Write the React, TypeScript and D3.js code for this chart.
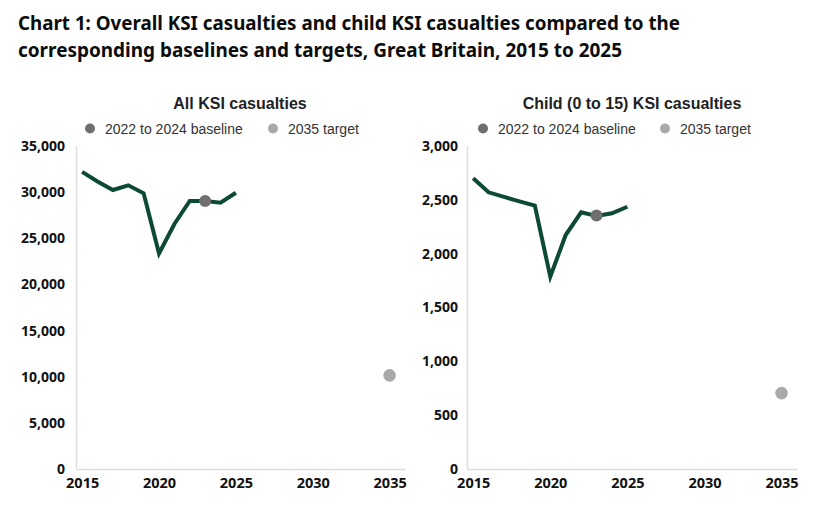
import React, { useEffect, useRef } from "react";
import * as d3 from "d3";

const years = [2015, 2016, 2017, 2018, 2019, 2020, 2021, 2022, 2023, 2024, 2025];
const allKsi = [32200, 31150, 30230, 30740, 29870, 23350, 26550, 29040, 29040, 28860, 29940];
const childKsi = [2700, 2570, 2527, 2486, 2446, 1786, 2173, 2384, 2350, 2375, 2436];

const baselineYear = 2023;
const targetYear = 2035;
const allBaseline = 29040;
const allTarget = 10150;
const childBaseline = 2355;
const childTarget = 705;

const xTicks = [2015, 2020, 2025, 2030, 2035];
const allTicks = [0, 5000, 10000, 15000, 20000, 25000, 30000, 35000];
const childTicks = [0, 500, 1000, 1500, 2000, 2500, 3000];

const legendLabels = ["2022 to 2024 baseline", "2035 target"];
const titleLines = [
  "Chart 1: Overall KSI casualties and child KSI casualties compared to the",
  "corresponding baselines and targets, Great Britain, 2015 to 2025",
];

const LINE = "#0c4a33";
const BASE = "#6f6f6f";
const TARGET = "#a9a9a9";

type PanelCfg = {
  title: string;
  values: number[];
  baseline: number;
  target: number;
  ticks: number[];
  left: number;
  right: number;
  titleX: number;
  legendX: number[];
  tickPad: number;
};

const panels: PanelCfg[] = [
  {
    title: "All KSI casualties",
    values: allKsi,
    baseline: allBaseline,
    target: allTarget,
    ticks: allTicks,
    left: 76,
    right: 405,
    titleX: 240,
    legendX: [90, 273],
    tickPad: 11,
  },
  {
    title: "Child (0 to 15) KSI casualties",
    values: childKsi,
    baseline: childBaseline,
    target: childTarget,
    ticks: childTicks,
    left: 467,
    right: 797,
    titleX: 632,
    legendX: [483, 665],
    tickPad: 9,
  },
];

const App: React.FC = () => {
  const ref = useRef<SVGSVGElement | null>(null);

  useEffect(() => {
    if (!ref.current) return;
    const svg = d3.select(ref.current);
    svg.selectAll("*").remove();

    // main title
    svg
      .append("g")
      .selectAll("text")
      .data(titleLines)
      .join("text")
      .attr("x", 18)
      .attr("y", (_, i) => 30 + i * 27)
      .attr("font-family", "'Noto Sans', sans-serif")
      .attr("font-weight", 700)
      .attr("font-size", 19.5)
      .attr("fill", "#0b0c0c")
      .attr("textLength", (_, i) => (i === 0 ? 662 : 604))
      .attr("lengthAdjust", "spacingAndGlyphs")
      .text((d) => d);

    const top = 146;
    const bottom = 469;

    panels.forEach((p) => {
      const g = svg.append("g");
      const x = d3.scaleLinear().domain([2014.6, 2036]).range([p.left, p.right]);
      const y = d3
        .scaleLinear()
        .domain([0, p.ticks[p.ticks.length - 1]])
        .range([bottom, top]);

      // panel title
      g.append("text")
        .attr("x", p.titleX)
        .attr("y", 109)
        .attr("text-anchor", "middle")
        .attr("font-family", "'Liberation Sans', Arial, sans-serif")
        .attr("font-weight", 700)
        .attr("font-size", 16)
        .attr("fill", "#222")
        .text(p.title);

      // legend
      [BASE, TARGET].forEach((c, i) => {
        g.append("circle")
          .attr("cx", p.legendX[i])
          .attr("cy", 128.5)
          .attr("r", 5)
          .attr("fill", c);
        g.append("text")
          .attr("x", p.legendX[i] + 15)
          .attr("y", 133.5)
          .attr("font-family", "'Liberation Sans', Arial, sans-serif")
          .attr("font-size", 14)
          .attr("fill", "#333")
          .text(legendLabels[i]);
      });

      // y axis
      const ya = g
        .append("g")
        .attr("transform", `translate(${p.left},0)`)
        .call(
          d3
            .axisLeft(y)
            .tickValues(p.ticks)
            .tickSize(0)
            .tickPadding(p.tickPad)
            .tickFormat(d3.format(","))
        );
      ya.select(".domain").attr("stroke", "#dedede").attr("stroke-width", 1.5);
      ya.selectAll("text")
        .attr("font-family", "'Open Sans', sans-serif")
        .attr("font-weight", 700)
        .attr("font-size", 14)
        .attr("fill", "#111");

      // x axis
      const xa = g
        .append("g")
        .attr("transform", `translate(0,${bottom})`)
        .call(
          d3
            .axisBottom(x)
            .tickValues(xTicks)
            .tickSize(0)
            .tickPadding(9)
            .tickFormat(d3.format("d"))
        );
      xa.select(".domain").attr("stroke", "#dedede").attr("stroke-width", 1.5);
      xa.selectAll("text")
        .attr("font-family", "'Open Sans', sans-serif")
        .attr("font-weight", 700)
        .attr("font-size", 14.5)
        .attr("fill", "#111");

      // series line
      const line = d3
        .line<number>()
        .x((_, i) => x(years[i]))
        .y((d) => y(d));
      g.append("path")
        .attr("d", line(p.values))
        .attr("fill", "none")
        .attr("stroke", LINE)
        .attr("stroke-width", 4)
        .attr("stroke-linejoin", "miter")
        .attr("stroke-linecap", "butt");

      // baseline and target
      g.append("circle")
        .attr("cx", x(baselineYear))
        .attr("cy", y(p.baseline))
        .attr("r", 6)
        .attr("fill", BASE);
      g.append("circle")
        .attr("cx", x(targetYear))
        .attr("cy", y(p.target))
        .attr("r", 6.3)
        .attr("fill", TARGET);
    });
  }, []);

  return (
    <svg
      ref={ref}
      width={816}
      height={522}
      style={{ position: "absolute", left: 0, top: 0, background: "#fff" }}
    ></svg>
  );
};

export default App;
